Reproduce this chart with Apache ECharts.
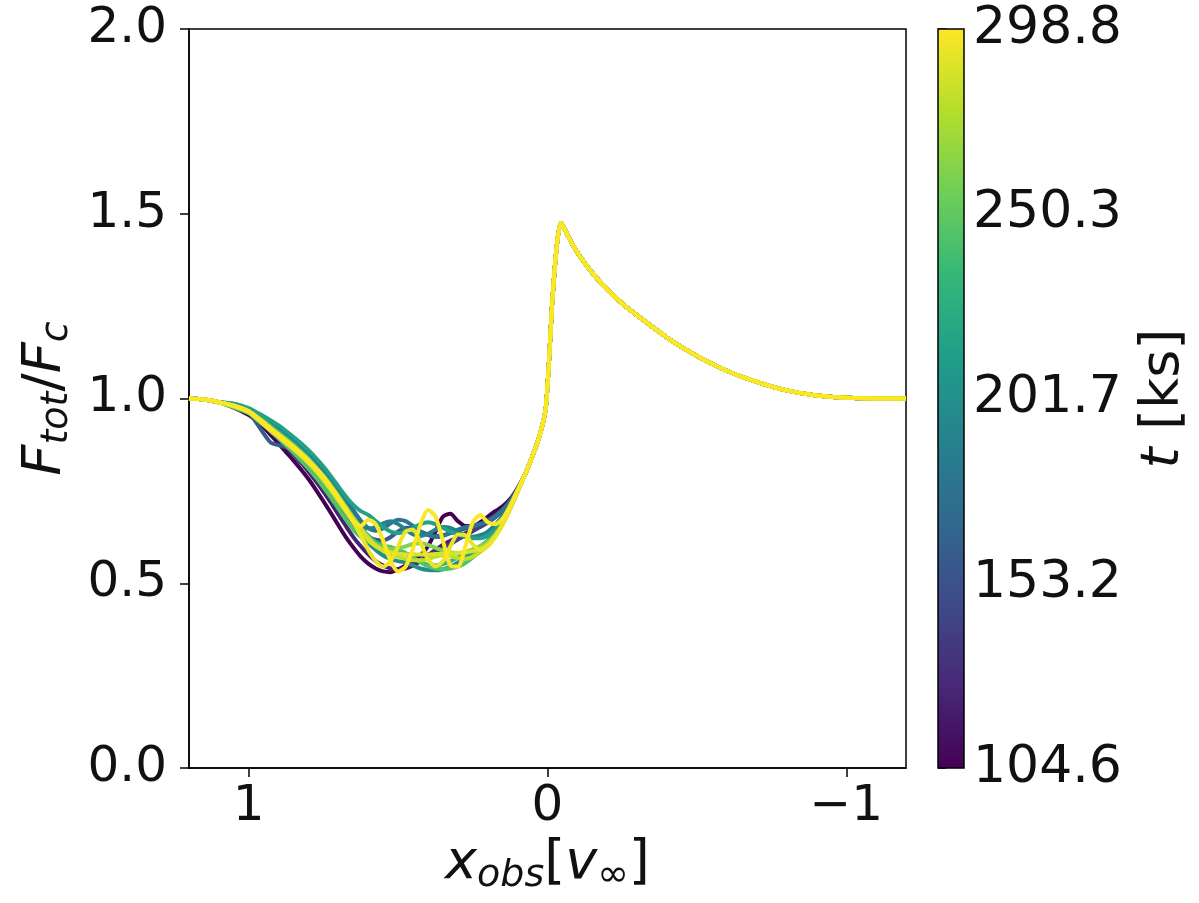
<!DOCTYPE html>
<html>
<head>
<meta charset="utf-8">
<script src="https://cdn.jsdelivr.net/npm/echarts@6/dist/echarts.min.js"></script>
<style>
  html, body { margin: 0; padding: 0; background: #fff; }
  #chart { width: 1199px; height: 903px; }
</style>
</head>
<body>
<div id="chart"></div>
<script>
// Time of each spectrum [ks]
const times = [104.6, 122.0, 140.0, 160.0, 180.0, 190.0, 200.0, 215.0, 235.0, 245.0, 262.0, 280.0, 288.0, 293.0, 298.8];

// Far blue wing, shared by all spectra (x from +1.2 inward)
const wingX = [1.2, 1.15, 1.1];
const wingY = [1.0, 0.997, 0.99];

// Absorption trough grid
const troughX = [1.05, 1.0, 0.975, 0.95, 0.925, 0.9, 0.875, 0.85, 0.825, 0.8, 0.775, 0.75, 0.725, 0.7,
                 0.675, 0.65, 0.625, 0.6, 0.575, 0.55, 0.525, 0.5, 0.475, 0.45, 0.425, 0.4, 0.375,
                 0.35, 0.325, 0.3, 0.275, 0.25, 0.225, 0.2, 0.175, 0.15, 0.125, 0.1];

// Trough profile of each spectrum (same order as times)
const trough0  = [0.975,0.955,0.940, 0.922,0.900,0.878,0.855,0.832,0.808,0.782,0.753,0.722,0.690,0.657,0.625,0.597,0.572,0.553, 0.540,0.532,0.530,0.538,0.548,0.560,0.575,0.600,0.640,0.680,0.688,0.668,0.655,0.655,0.665,0.680,0.695,0.708,0.728,0.758];
const trough1  = [0.977,0.960,0.946, 0.930,0.910,0.890,0.869,0.848,0.826,0.802,0.776,0.748,0.718,0.686,0.655,0.625,0.600,0.578, 0.560,0.548,0.540,0.538,0.540,0.548,0.560,0.575,0.590,0.604,0.615,0.625,0.635,0.645,0.655,0.668,0.683,0.700,0.722,0.755];
const trough2  = [0.980,0.965,0.952, 0.937,0.921,0.905,0.889,0.872,0.854,0.834,0.812,0.788,0.761,0.732,0.702,0.675,0.650,0.628, 0.612,0.600,0.592,0.585,0.580,0.577,0.576,0.578,0.584,0.594,0.606,0.618,0.630,0.641,0.652,0.664,0.678,0.695,0.718,0.752];
const trough3  = [0.982,0.962,0.935, 0.905,0.880,0.874,0.868,0.856,0.840,0.820,0.798,0.774,0.748,0.720,0.690,0.663,0.640,0.625, 0.618,0.616,0.625,0.640,0.650,0.648,0.640,0.632,0.628,0.630,0.636,0.642,0.648,0.653,0.660,0.670,0.683,0.700,0.722,0.755];
const trough4  = [0.985,0.972,0.962, 0.950,0.937,0.923,0.908,0.892,0.875,0.856,0.835,0.812,0.786,0.758,0.728,0.698,0.670,0.650, 0.642,0.648,0.662,0.672,0.668,0.655,0.640,0.630,0.625,0.628,0.636,0.645,0.652,0.656,0.660,0.668,0.680,0.698,0.722,0.755];
const trough5  = [0.984,0.970,0.958, 0.945,0.930,0.915,0.899,0.882,0.864,0.844,0.822,0.798,0.771,0.742,0.712,0.683,0.660,0.648, 0.652,0.662,0.668,0.660,0.645,0.632,0.628,0.634,0.645,0.652,0.650,0.640,0.630,0.626,0.630,0.640,0.658,0.682,0.715,0.754];
const trough6  = [0.978,0.962,0.948, 0.933,0.916,0.900,0.883,0.866,0.847,0.826,0.803,0.778,0.751,0.722,0.692,0.662,0.636,0.610, 0.590,0.575,0.565,0.560,0.556,0.548,0.540,0.536,0.535,0.538,0.545,0.556,0.570,0.585,0.600,0.615,0.635,0.662,0.702,0.748];
const trough7  = [0.986,0.974,0.963, 0.952,0.940,0.927,0.912,0.896,0.879,0.860,0.839,0.816,0.790,0.762,0.735,0.712,0.695,0.685, 0.668,0.652,0.640,0.636,0.640,0.650,0.660,0.665,0.660,0.650,0.640,0.632,0.626,0.622,0.622,0.628,0.645,0.672,0.710,0.752];
const trough8  = [0.980,0.966,0.953, 0.940,0.925,0.909,0.893,0.876,0.858,0.838,0.816,0.792,0.766,0.738,0.708,0.678,0.650,0.628, 0.612,0.602,0.596,0.590,0.582,0.570,0.558,0.550,0.548,0.552,0.560,0.570,0.580,0.590,0.600,0.612,0.632,0.662,0.705,0.750];
const trough9  = [0.976,0.960,0.945, 0.928,0.910,0.892,0.873,0.853,0.832,0.810,0.786,0.760,0.732,0.702,0.672,0.645,0.625,0.612, 0.605,0.600,0.598,0.590,0.580,0.568,0.556,0.546,0.540,0.538,0.540,0.545,0.555,0.570,0.588,0.608,0.632,0.662,0.704,0.749];
const trough10 = [0.979,0.964,0.950, 0.934,0.917,0.900,0.883,0.865,0.846,0.825,0.802,0.777,0.750,0.722,0.693,0.665,0.640,0.620, 0.605,0.596,0.592,0.594,0.600,0.606,0.608,0.604,0.596,0.588,0.583,0.582,0.585,0.592,0.600,0.612,0.632,0.662,0.705,0.750];
const trough11 = [0.980,0.965,0.951, 0.936,0.920,0.904,0.888,0.871,0.853,0.834,0.812,0.789,0.763,0.734,0.705,0.676,0.649,0.624, 0.603,0.588,0.578,0.572,0.566,0.562,0.562,0.566,0.572,0.576,0.574,0.568,0.566,0.572,0.585,0.602,0.627,0.660,0.704,0.750];
const trough12 = [0.980,0.964,0.949, 0.932,0.916,0.900,0.884,0.868,0.850,0.831,0.810,0.786,0.759,0.730,0.700,0.672,0.645,0.618, 0.600,0.590,0.584,0.580,0.578,0.578,0.578,0.578,0.579,0.580,0.581,0.582,0.584,0.587,0.593,0.605,0.628,0.660,0.705,0.750];
const trough13 = [0.979,0.963,0.947, 0.929,0.912,0.896,0.879,0.863,0.845,0.826,0.805,0.781,0.754,0.725,0.696,0.666,0.630,0.590, 0.560,0.545,0.560,0.600,0.640,0.645,0.610,0.565,0.545,0.560,0.600,0.632,0.630,0.605,0.590,0.600,0.625,0.658,0.702,0.748];
const trough14 = [0.981,0.966,0.951, 0.934,0.917,0.901,0.885,0.869,0.851,0.832,0.811,0.788,0.761,0.732,0.700,0.668,0.655,0.672, 0.660,0.615,0.560,0.532,0.545,0.595,0.660,0.698,0.680,0.615,0.548,0.545,0.600,0.665,0.685,0.665,0.660,0.675,0.710,0.752];
const troughs = [trough0, trough1, trough2, trough3, trough4, trough5, trough6, trough7,
                 trough8, trough9, trough10, trough11, trough12, trough13, trough14];

// Emission peak and red wing, shared by all spectra
const peakX = [0.075, 0.05, 0.03, 0.015, 0.005, -0.005, -0.015, -0.025, -0.035, -0.045, -0.055,
               -0.075, -0.1, -0.15, -0.2, -0.25, -0.3, -0.4, -0.5, -0.6, -0.7, -0.8, -0.9, -1.0, -1.1, -1.2];
const peakY = [0.795, 0.845, 0.89, 0.935, 0.98, 1.10, 1.25, 1.36, 1.44, 1.475, 1.462,
               1.43, 1.395, 1.34, 1.295, 1.257, 1.225, 1.165, 1.115, 1.075, 1.045, 1.022, 1.008, 1.002, 1.0, 1.0];

// Axis ticks
const xTicks = [1, 0, -1];
const cbTicks = [104.6, 153.2, 201.7, 250.3, 298.8];
const tMin = 104.6, tMax = 298.8;

// viridis colour map
const viridis = ['#440154', '#482878', '#3e4a89', '#31688e', '#26828e',
                 '#1f9e89', '#35b779', '#6ece58', '#b5de2b', '#fde725'];

function hexToRgb(h) {
  return [parseInt(h.slice(1, 3), 16), parseInt(h.slice(3, 5), 16), parseInt(h.slice(5, 7), 16)];
}
function viridisAt(f) {
  f = Math.max(0, Math.min(1, f));
  const p = f * (viridis.length - 1);
  const i = Math.min(Math.floor(p), viridis.length - 2);
  const u = p - i;
  const a = hexToRgb(viridis[i]), b = hexToRgb(viridis[i + 1]);
  const c = a.map((v, k) => Math.round(v + (b[k] - v) * u));
  return 'rgb(' + c.join(',') + ')';
}

const FONT = 'DejaVu Sans';
const TXT = '#111';

function spectrum(k) {
  const pts = [];
  wingX.forEach((x, i) => pts.push([x, wingY[i]]));
  troughX.forEach((x, i) => pts.push([x, troughs[k][i]]));
  peakX.forEach((x, i) => pts.push([x, peakY[i]]));
  return pts;
}

const lineSeries = times.map((t, k) => ({
  type: 'line',
  name: t.toFixed(1),
  xAxisIndex: 0,
  yAxisIndex: 0,
  data: spectrum(k),
  showSymbol: false,
  smooth: 0.25,
  lineStyle: { width: 4, color: viridisAt((t - tMin) / (tMax - tMin)) },
  z: 2 + k * 0.01,
  silent: true
}));

const cbGradient = new echarts.graphic.LinearGradient(0, 1, 0, 0,
  viridis.map((c, i) => ({ offset: i / (viridis.length - 1), color: c })));

const colorbarSeries = {
  type: 'custom',
  xAxisIndex: 1,
  yAxisIndex: 1,
  data: [[0, tMin, tMax]],
  silent: true,
  renderItem: function (params, api) {
    const lo = api.coord([0, api.value(1)]);
    const hi = api.coord([0, api.value(2)]);
    const cs = params.coordSys;
    return {
      type: 'rect',
      shape: { x: cs.x, y: hi[1], width: cs.width, height: lo[1] - hi[1] },
      style: { fill: cbGradient, stroke: '#000', lineWidth: 1.5 }
    };
  }
};

const tickText = { fontFamily: FONT, fontSize: 50, color: TXT };
const nameRich = {
  i: { fontFamily: FONT, fontSize: 54, fontStyle: 'italic', color: TXT, lineHeight: 62 },
  n: { fontFamily: FONT, fontSize: 54, color: TXT, lineHeight: 62 },
  s: { fontFamily: FONT, fontSize: 38, fontStyle: 'italic', color: TXT, lineHeight: 30, verticalAlign: 'bottom' },
  u: { fontFamily: FONT, fontSize: 38, color: TXT, lineHeight: 30, verticalAlign: 'bottom' }
};

const option = {
  backgroundColor: '#fff',
  animation: false,
  grid: [
    { left: 189, top: 29, width: 717, height: 739, outerBoundsMode: 'none', containLabel: false,
      show: true, borderColor: '#000', borderWidth: 1.5 },
    { left: 938, top: 29, width: 26, height: 739, outerBoundsMode: 'none', containLabel: false }
  ],
  xAxis: [
    {
      gridIndex: 0, type: 'value', inverse: true, min: -1.2, max: 1.2,
      splitLine: { show: false },
      axisLine: { show: true, onZero: false, lineStyle: { color: '#000', width: 1.5 } },
      axisTick: { show: true, length: 9, customValues: xTicks, lineStyle: { color: '#000', width: 1.5 } },
      axisLabel: {
        customValues: xTicks, margin: 14, ...tickText,
        formatter: v => (v < 0 ? '\u2212' + Math.abs(v) : String(v))
      },
      name: '{i|x}{s|obs}{n|[}{i|v}{u|\u221e}{n|]}',
      nameLocation: 'middle',
      nameGap: 64,
      nameTextStyle: { rich: nameRich }
    },
    {
      gridIndex: 1, type: 'value', min: 0, max: 1, show: false
    }
  ],
  yAxis: [
    {
      gridIndex: 0, type: 'value', min: 0, max: 2, interval: 0.5,
      splitLine: { show: false },
      axisLine: { show: true, onZero: false, lineStyle: { color: '#000', width: 1.5 } },
      axisTick: { show: true, length: 9, lineStyle: { color: '#000', width: 1.5 } },
      axisLabel: { margin: 22, ...tickText, formatter: v => v.toFixed(1) },
      name: '{i|F}{s|tot}{n|/}{i|F}{s|c}',
      nameLocation: 'middle',
      nameRotate: 90,
      nameGap: 108,
      nameTextStyle: { rich: nameRich }
    },
    {
      gridIndex: 1, type: 'value', min: tMin, max: tMax, position: 'right',
      splitLine: { show: false },
      axisLine: { show: false },
      axisTick: { show: true, length: 8, customValues: cbTicks, lineStyle: { color: '#000', width: 1.5 } },
      axisLabel: { customValues: cbTicks, margin: 9, ...tickText, fontSize: 52, formatter: v => v.toFixed(1) },
      name: '{i|t}{n| [ks]}',
      nameLocation: 'middle',
      nameRotate: 90,
      nameGap: 169,
      nameTextStyle: { rich: nameRich }
    }
  ],
  series: [...lineSeries, colorbarSeries]
};

const chart = echarts.init(document.getElementById('chart'), null, { renderer: 'canvas' });
chart.setOption(option);
</script>
</body>
</html>
